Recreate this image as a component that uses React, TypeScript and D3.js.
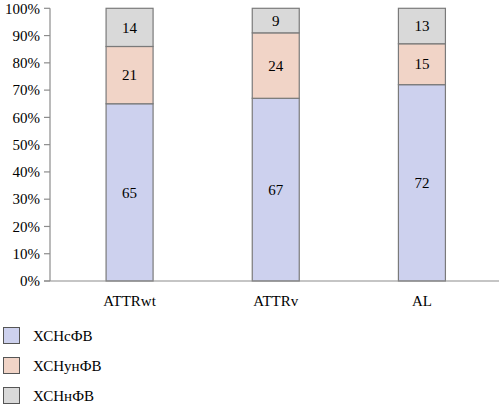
import React from "react";
import * as d3 from "d3";

const categories = ["ATTRwt", "ATTRv", "AL"];
const seriesNames = ["ХСНсФВ", "ХСНунФВ", "ХСНнФВ"];
const preserved = [65, 67, 72];
const midRange = [21, 24, 15];
const reduced = [14, 9, 13];
const yTicks = [0, 10, 20, 30, 40, 50, 60, 70, 80, 90, 100];
const colors = ["#cdd1ee", "#f1d4c7", "#d9d9d9"];

const W = 500;
const H = 412;
const FONT = '"Liberation Serif", Tinos, "DejaVu Serif", serif';

export default function App() {
  const x = d3.scaleBand().domain(categories).range([56.5, 495]).paddingInner(0.68).paddingOuter(0.34);
  const y = d3.scaleLinear().domain([0, 100]).range([281, 8.3]);
  const rows = categories.map((c, i) => ({ cat: c, s0: preserved[i], s1: midRange[i], s2: reduced[i] }));
  const stack = d3.stack<any>().keys(["s0", "s1", "s2"])(rows);
  const bw = 47;
  const ts = { fontFamily: FONT, fontSize: 15 } as React.CSSProperties;

  return (
    <svg width={W} height={H} style={{ position: "absolute", left: 0, top: 0, fontFamily: FONT }}>
      <rect x={0} y={0} width={W} height={H} fill="#fff" />
      {/* y axis */}
      <line x1={50} x2={50} y1={y(100)} y2={y(0)} stroke="#8c8c8c" strokeWidth={1.2} />
      {yTicks.map((t) => (
        <g key={t}>
          <line x1={44} x2={50} y1={y(t)} y2={y(t)} stroke="#8c8c8c" strokeWidth={1.2} />
          <text x={40} y={y(t)} dy="0.35em" textAnchor="end" style={ts} fill="#000">
            {t}%
          </text>
        </g>
      ))}
      {/* bars */}
      {stack.map((layer, li) =>
        layer.map((d, i) => {
          const cx = (x(categories[i]) as number) + x.bandwidth() / 2;
          const y0 = y(d[1]);
          const y1 = y(d[0]);
          return (
            <g key={`${li}-${i}`}>
              <rect x={cx - bw / 2} y={y0} width={bw} height={y1 - y0} fill={colors[li]} stroke="#7a7a7a" strokeWidth={1.2} />
              <text x={cx} y={(y0 + y1) / 2} dy="0.35em" textAnchor="middle" style={ts} fill="#000">
                {d[1] - d[0]}
              </text>
            </g>
          );
        })
      )}
      {/* x axis */}
      <line x1={44} x2={499} y1={y(0)} y2={y(0)} stroke="#8c8c8c" strokeWidth={1.2} />
      {categories.map((c) => (
        <text key={c} x={(x(c) as number) + x.bandwidth() / 2} y={306} textAnchor="middle" style={ts} fill="#000">
          {c}
        </text>
      ))}
      {/* legend */}
      {seriesNames.map((n, i) => (
        <g key={n}>
          <rect x={3.5} y={327.5 + i * 30} width={16} height={16} fill={colors[i]} stroke="#555" strokeWidth={1} />
          <text x={33} y={340.5 + i * 30} style={ts} fill="#000">
            {n}
          </text>
        </g>
      ))}
    </svg>
  );
}
